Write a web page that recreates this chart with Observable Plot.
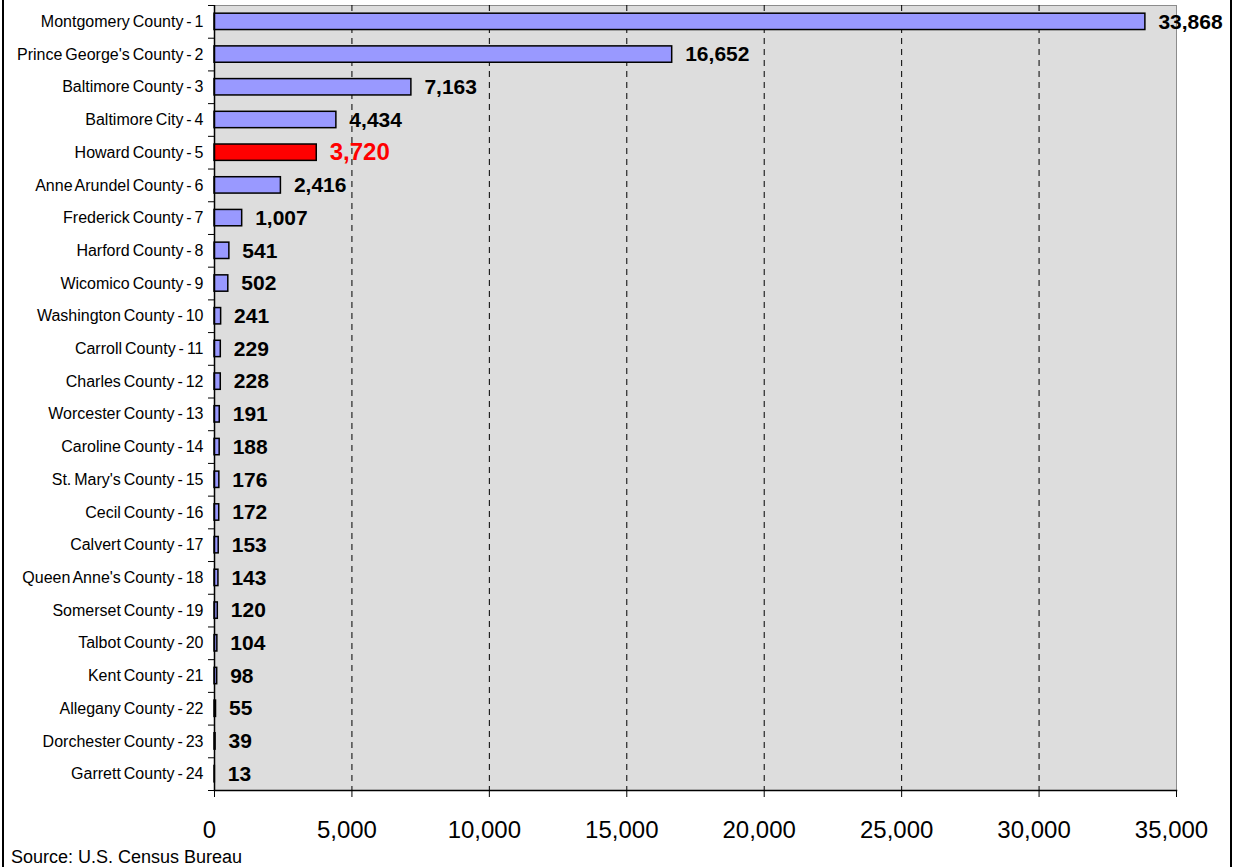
<!DOCTYPE html>
<html>
<head>
<meta charset="utf-8">
<script src="https://cdn.jsdelivr.net/npm/d3@7"></script>
<script src="https://cdn.jsdelivr.net/npm/@observablehq/plot@0.6"></script>
<style>
  body { margin: 0; background: #fff; font-family: "Liberation Sans", Arial, sans-serif; }
  #wrap { position: relative; width: 1233px; height: 867px; overflow: hidden; background: #fff; }
  #chart { position: absolute; left: 0; top: 0; }
  .bl { position: absolute; top: 0; bottom: 0; width: 1.5px; background: #000; }
  #source { position: absolute; left: 11px; top: 848px; font-size: 18px; line-height: 18px; color: #000; }
</style>
</head>
<body>
<div id="wrap">
  <div id="chart"></div>
  <div class="bl" style="left:2px"></div>
  <div class="bl" style="left:1230px"></div>
  <div id="source">Source: U.S. Census Bureau</div>
</div>
<script>
const counties = [
  "Montgomery County - 1", "Prince George's County - 2", "Baltimore County - 3", "Baltimore City - 4",
  "Howard County - 5", "Anne Arundel County - 6", "Frederick County - 7", "Harford County - 8",
  "Wicomico County - 9", "Washington County - 10", "Carroll County - 11", "Charles County - 12",
  "Worcester County - 13", "Caroline County - 14", "St. Mary's County - 15", "Cecil County - 16",
  "Calvert County - 17", "Queen Anne's County - 18", "Somerset County - 19", "Talbot County - 20",
  "Kent County - 21", "Allegany County - 22", "Dorchester County - 23", "Garrett County - 24"
];
const values = [33868, 16652, 7163, 4434, 3720, 2416, 1007, 541, 502, 241, 229, 228, 191, 188, 176, 172, 153, 143, 120, 104, 98, 55, 39, 13];
const highlight = "Howard County - 5";
const xTicks = [0, 5000, 10000, 15000, 20000, 25000, 30000, 35000];
const gridTicks = [5000, 10000, 15000, 20000, 25000, 30000];

const data = counties.map((county, i) => ({county, value: values[i], hl: county === highlight}));

const W = 1233, H = 845, mT = 5, mB = 55, mL = 214, mR = 57;
const step = (H - mT - mB) / counties.length;
const fmt = d3.format(",");

const chart = Plot.plot({
  width: W, height: H,
  marginLeft: mL, marginRight: mR, marginTop: mT, marginBottom: mB,
  style: {fontFamily: "'Liberation Sans', Arial, sans-serif", background: "transparent", wordSpacing: "-1.5px", color: "#000"},
  x: {domain: [0, 35000]},
  y: {domain: counties, paddingInner: 0.5, paddingOuter: 0.25, round: false},
  color: {type: "identity"},
  marks: [
    Plot.frame({fill: "#DDDDDD", stroke: "#8c8c8c"}),
    Plot.ruleX(gridTicks, {stroke: "#000", strokeWidth: 1, strokeDasharray: "6,5"}),
    Plot.barX(data, {x: "value", y: "county", fill: d => d.hl ? "#FF0000" : "#9999FF", stroke: "#000", strokeWidth: 1.5}),
    Plot.text(data, {
      x: "value", y: "county", text: d => fmt(d.value), dx: 13, textAnchor: "start",
      fontWeight: "bold", fontSize: d => d.hl ? 24 : 21, fill: d => d.hl ? "#FF0000" : "#000"
    }),
    Plot.ruleX([0], {stroke: "#000", strokeWidth: 1.5}),
    Plot.frame({anchor: "bottom", stroke: "#000", strokeWidth: 1.5}),
    Plot.ruleY(counties, {y: d => d, x1: () => 0, x2: () => 0, insetLeft: -6, dy: -step / 2, stroke: "#000"}),
    Plot.ruleY(counties.slice(-1), {y: d => d, x1: () => 0, x2: () => 0, insetLeft: -6, dy: step / 2, stroke: "#000"}),
    Plot.axisX({ticks: xTicks, tickSize: 7, tickFormat: () => "", label: null}),
    Plot.axisX({ticks: xTicks, tickSize: 0, tickPadding: 30, fontSize: 24, tickFormat: fmt, label: null, dx: -5}),
    Plot.axisY({tickSize: 0, tickPadding: 11, fontSize: 16, label: null})
  ]
});
document.getElementById("chart").appendChild(chart);
</script>
</body>
</html>
